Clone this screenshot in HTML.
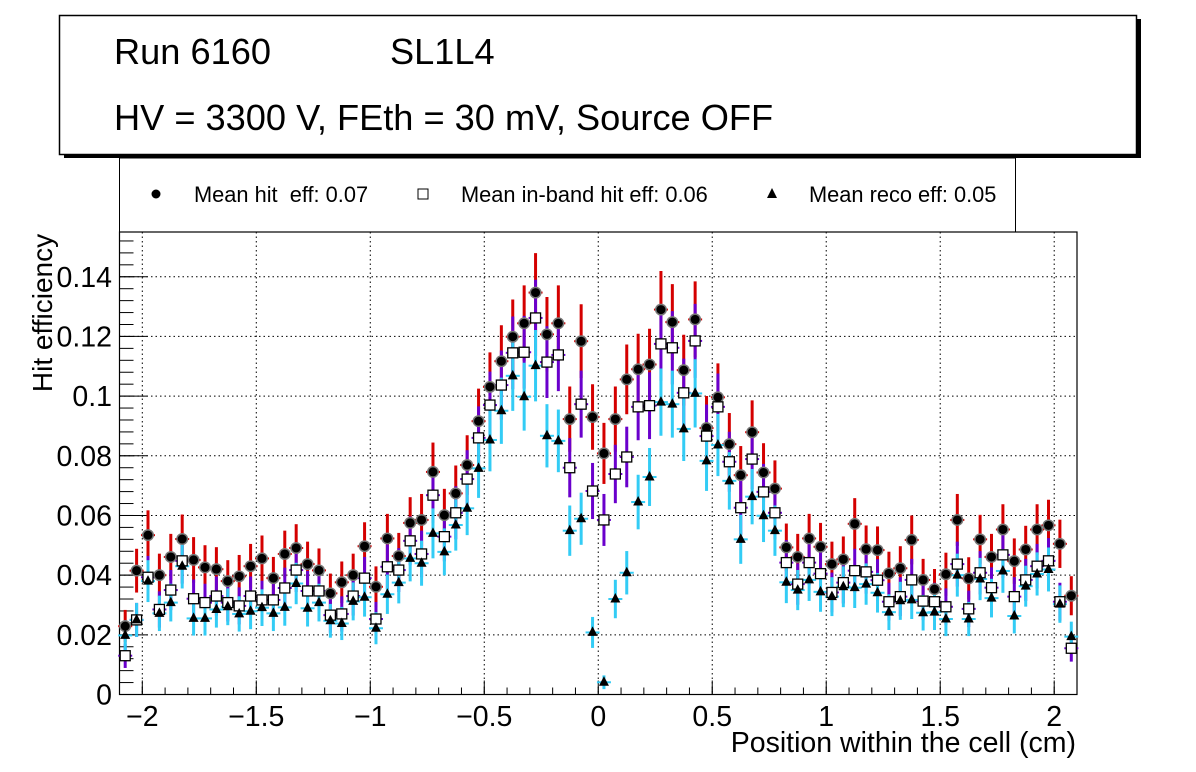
<!DOCTYPE html>
<html><head><meta charset="utf-8"><style>
html,body{margin:0;padding:0;background:#fff;}
svg{display:block;font-family:"Liberation Sans",Arial,sans-serif;}
</style></head><body>
<svg id="c" width="1196" height="772" viewBox="0 0 1196 772">
<g>
<rect x="64" y="19" width="1077" height="139" fill="#000"/>
<rect x="59.5" y="15.5" width="1077" height="139" fill="#fff" stroke="#000" stroke-width="1.5"/>
<text x="114" y="64" font-size="36.2">Run 6160</text>
<text x="390" y="64" font-size="36.2">SL1L4</text>
<text x="114" y="130" font-size="36.2">HV = 3300 V, FEth = 30 mV, Source OFF</text>
</g>
<g>
<rect x="119.5" y="158" width="896" height="74" fill="#fff" stroke="#000" stroke-width="1"/>
<g><circle cx="156" cy="194" r="4.5" fill="#000"/><text x="194" y="202" font-size="21.8" xml:space="preserve">Mean hit  eff: 0.07</text></g>
<g><rect x="418" y="189" width="10" height="10" fill="#fff" stroke="#000"/><text x="461" y="202" font-size="21.8">Mean in-band hit eff: 0.06</text></g>
<g><polygon points="772,188 777,198 767,198" fill="#000"/><text x="809" y="202" font-size="21.8">Mean reco eff: 0.05</text></g>
</g>
<g id="grid"></g>
<g id="axes"></g>
<g id="bars"></g>
<g id="marks"></g>
<text x="1076" y="752" font-size="28.5" text-anchor="end">Position within the cell (cm)</text>
<text transform="translate(52,313) rotate(-90)" font-size="28" text-anchor="middle">Hit efficiency</text>
</svg>
<script>
const hitEff = [0.0229,0.0415,0.0534,0.0400,0.0461,0.0521,0.0451,0.0426,0.0420,0.0380,0.0396,0.0430,0.0456,0.0390,0.0471,0.0491,0.0437,0.0416,0.0339,0.0376,0.0400,0.0497,
0.0361,0.0523,0.0464,0.0575,0.0585,0.0746,0.0601,0.0674,0.0769,0.0916,0.1031,0.1117,0.1199,0.1244,0.1347,0.1207,0.1244,0.0923,0.1184,0.0930,0.0808,
0.0923,0.1056,0.1090,0.1106,0.1290,0.1248,0.1087,0.1257,0.0893,0.0996,0.0839,0.0735,0.0879,0.0744,0.0690,0.0493,0.0461,0.0523,0.0495,0.0437,
0.0453,0.0572,0.0487,0.0484,0.0406,0.0423,0.0518,0.0384,0.0353,0.0403,0.0585,0.0389,0.0520,0.0461,0.0553,0.0447,0.0486,0.0553,0.0567,0.0505,0.0331];
const inbandEff = [0.0130,0.0250,0.0393,0.0285,0.0350,0.0448,0.0321,0.0308,0.0330,0.0308,0.0297,0.0330,0.0317,0.0317,0.0357,0.0417,0.0347,0.0347,0.0266,0.0270,0.0330,0.0390,
0.0253,0.0428,0.0417,0.0515,0.0471,0.0668,0.0529,0.0609,0.0722,0.0860,0.0970,0.1037,0.1145,0.1147,0.1262,0.1114,0.1138,0.0760,0.0973,0.0682,0.0585,
0.0739,0.0796,0.0964,0.0968,0.1175,0.1162,0.1011,0.1185,0.0866,0.0964,0.0780,0.0626,0.0789,0.0679,0.0609,0.0442,0.0370,0.0442,0.0405,0.0342,
0.0375,0.0415,0.0411,0.0383,0.0311,0.0328,0.0384,0.0313,0.0311,0.0294,0.0437,0.0287,0.0408,0.0358,0.0468,0.0328,0.0384,0.0430,0.0448,0.0311,0.0155];
const recoEff = [0.0198,0.0250,0.0380,0.0272,0.0308,0.0430,0.0255,0.0255,0.0285,0.0294,0.0270,0.0279,0.0291,0.0272,0.0292,0.0372,0.0289,0.0308,0.0247,0.0238,0.0312,0.0326,
0.0222,0.0336,0.0375,0.0456,0.0440,0.0540,0.0478,0.0568,0.0624,0.0758,0.0853,0.0951,0.1068,0.0998,0.1102,0.0867,0.0850,0.0549,0.0589,0.0208,0.0041,
0.0320,0.0408,0.0645,0.0729,0.0980,0.0973,0.0890,0.1009,0.0783,0.0836,0.0716,0.0520,0.0663,0.0599,0.0549,0.0376,0.0350,0.0384,0.0344,0.0328,
0.0361,0.0358,0.0370,0.0341,0.0276,0.0314,0.0317,0.0274,0.0276,0.0253,0.0400,0.0253,0.0387,0.0323,0.0414,0.0263,0.0363,0.0404,0.0419,0.0303,0.0194];
const binStart = -2.075, binWidth = 0.05;
const xTicks = [-2,-1.5,-1,-0.5,0,0.5,1,1.5,2];
const xTickLabels = ["\u22122","\u22121.5","\u22121","\u22120.5","0","0.5","1","1.5","2"];
const yTicks = [0,0.02,0.04,0.06,0.08,0.1,0.12,0.14];
const yTickLabels = ["0","0.02","0.04","0.06","0.08","0.1","0.12","0.14"];

const NS="http://www.w3.org/2000/svg";
const L=119.5,R=1077,T=232,B=694.5,XMIN=-2.1,XMAX=2.1,YMIN=0,YMAX=0.155;
const sx=v=>L+(v-XMIN)/(XMAX-XMIN)*(R-L);
const sy=v=>B-(v-YMIN)/(YMAX-YMIN)*(B-T);
function mk(tag,attrs,parent){const e=document.createElementNS(NS,tag);for(const k in attrs)e.setAttribute(k,attrs[k]);parent.appendChild(e);return e;}
const grid=document.getElementById('grid'),axes=document.getElementById('axes'),bars=document.getElementById('bars'),marks=document.getElementById('marks');
xTicks.forEach((t,i)=>{
  const g=mk('line',{x1:sx(t),x2:sx(t),y1:T,y2:B,stroke:'#000','stroke-width':1,'stroke-dasharray':'1.5,3'},grid);
  
  
  const tk=mk('line',{x1:sx(t),x2:sx(t),y1:B,y2:B-14,stroke:'#000','stroke-width':1},axes);
  
  
  const lb=mk('text',{x:sx(t),y:726,'font-size':28.5,'text-anchor':'middle'},axes);lb.textContent=xTickLabels[i];
  
  
});
for(let t=-2.1;t<=2.1001;t+=0.1){const m=mk('line',{x1:sx(t),x2:sx(t),y1:B,y2:B-7,stroke:'#000','stroke-width':1},axes);
  
  }
yTicks.forEach((t,i)=>{
  if(t>0){const g=mk('line',{x1:L,x2:R,y1:sy(t),y2:sy(t),stroke:'#000','stroke-width':1,'stroke-dasharray':'1.5,3'},grid);
  
  }
  const tk=mk('line',{x1:L,x2:L+28,y1:sy(t),y2:sy(t),stroke:'#000','stroke-width':1},axes);
  
  
  const lb=mk('text',{x:112,y:sy(t)+10,'font-size':28.5,'text-anchor':'end'},axes);lb.textContent=yTickLabels[i];
  
  
});
for(let t=0;t<=0.1551;t+=0.004){const m=mk('line',{x1:L,x2:L+14,y1:sy(t),y2:sy(t),stroke:'#000','stroke-width':1},axes);
  
  }
const fr=mk('rect',{x:L,y:T,width:R-L,height:B-T,fill:'none',stroke:'#000','stroke-width':1.2},axes);



const series=[[hitEff,'#d40000','hit'],[inbandEff,'#6a00cc','inband'],[recoEff,'#33ccf5','reco']];
series.forEach(([arr,col,nm])=>{
  arr.forEach((v,i)=>{
    const x=sx(binStart+i*binWidth),e=0.036*Math.sqrt(v);
    const b=mk('line',{x1:x,x2:x,y1:sy(Math.max(0,v-e)),y2:sy(v+e),stroke:col,'stroke-width':3},bars);
    
    
    const h=mk('line',{x1:x-7,x2:x+7,y1:sy(v),y2:sy(v),stroke:col,'stroke-width':2},bars);
    
    
  });
});
hitEff.forEach((v,i)=>{const x=sx(binStart+i*binWidth);
  mk('circle',{cx:x,cy:sy(v),r:6,fill:'#777'},marks);
  const c=mk('circle',{cx:x,cy:sy(v),r:4.5,fill:'#000'},marks);
  
  });
inbandEff.forEach((v,i)=>{const x=sx(binStart+i*binWidth);
  const r=mk('rect',{x:x-5,y:sy(v)-5,width:10,height:10,fill:'#fff',stroke:'#000','stroke-width':1.3},marks);
  
  });
recoEff.forEach((v,i)=>{const x=sx(binStart+i*binWidth),y=sy(v);
  const p=mk('polygon',{points:`${x},${y-6} ${x+5},${y+3.5} ${x-5},${y+3.5}`,fill:'#000'},marks);
  
  });
</script>
</body></html>
